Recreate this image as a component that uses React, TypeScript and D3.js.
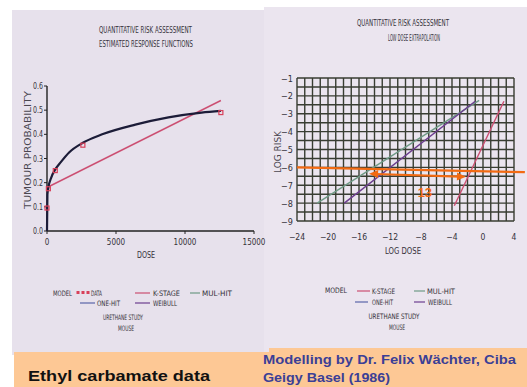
import React from "react";
import * as d3 from "d3";

// ---------- data ----------
// Left chart: estimated response functions
const dataDose = [0, 100, 600, 2600, 12600];
const dataProb = [0.095, 0.175, 0.25, 0.355, 0.49];
const fitDose = [0, 30, 100, 300, 600, 1000, 1600, 2600, 4000, 6400, 8800, 11200, 12600];
const fitProb = [0.0, 0.15, 0.18, 0.22, 0.255, 0.285, 0.325, 0.365, 0.4, 0.44, 0.47, 0.49, 0.497];
const kstageDose = [0, 12600];
const kstageProb = [0.18, 0.54];
const leftXTicks = [0, 5000, 10000, 15000];
const leftYTicks = [0, 0.1, 0.2, 0.3, 0.4, 0.5, 0.6];

// Right chart: low dose extrapolation
const mulhitLogDose = [-21.4, -0.5];
const mulhitLogRisk = [-8, -2.25];
const weibullLogDose = [-17.9, -1.0];
const weibullLogRisk = [-8, -2.3];
const kstageLogDose = [-3.7, 2.7];
const kstageLogRisk = [-8.15, -2.3];
const rightXTicks = [-24, -20, -16, -12, -8, -4, 0, 4];
const rightYTicks = [-1, -2, -3, -4, -5, -6, -7, -8, -9];
const refLineX = [-24, 5.4];
const refLineY = [-6.0, -6.27];
const arrowX = [-14.7, -2.2];
const arrowY = [-6.36, -6.53];
const arrowLabel = "13";

const CF = "'DejaVu Sans Condensed', 'Liberation Sans Narrow', 'Liberation Sans', Arial, sans-serif";
const INK = "#35313a";
const PINK = "#cc4f72";
const GREEN = "#6f9a86";
const BLUE = "#5a64a8";
const PURPLE = "#6d3f8f";
const ORANGE = "#f26a12";

const xL = d3.scaleLinear().domain([0, 15000]).range([47, 254]);
const yL = d3.scaleLinear().domain([0, 0.6]).range([231, 86]);
const xR = d3.scaleLinear().domain([-24, 4]).range([297, 514]);
const yR = d3.scaleLinear().domain([-9, -1]).range([221, 78]);

function T(props: any) {
  const { x, y, w, children, size = 8, anchor = "start", fill = INK, rotate } = props;
  return (
    <text
      x={x}
      y={y}
      fontFamily={CF}
      fontSize={size}
      fill={fill}
      textAnchor={anchor}
      textLength={w}
      lengthAdjust={w ? "spacingAndGlyphs" : undefined}
      transform={rotate ? `rotate(${rotate},${x},${y})` : undefined}
    >
      {children}
    </text>
  );
}

export default function App() {
  const lineL = d3.line<number>().x((d, i) => xL(fitDose[i])).y((d) => yL(d)).curve(d3.curveMonotoneX);
  const fitPath = lineL(fitProb) || "";
  const kPath = d3.line<number>().x((d, i) => xL(kstageDose[i])).y((d) => yL(d))(kstageProb) || "";

  const seg = (xs: number[], ys: number[]) =>
    d3.line<number>().x((d) => xR(d)).y((d, i) => yR(ys[i]))(xs) || "";

  const gridX = d3.range(-24, 5, 1);
  const gridY = d3.range(-9, -0.99, 0.5);

  // arrow geometry
  const ax1 = xR(arrowX[0]), ay1 = yR(arrowY[0]), ax2 = xR(arrowX[1]), ay2 = yR(arrowY[1]);
  const ang = Math.atan2(ay2 - ay1, ax2 - ax1);
  const head = (tx: number, ty: number, dir: number) => {
    const L = 9, Wd = 4;
    const c = Math.cos(ang) * dir, s = Math.sin(ang) * dir;
    const bx = tx - L * c, by = ty - L * s;
    return `M${tx},${ty}L${bx - Wd * s},${by + Wd * c}L${bx + Wd * s},${by - Wd * c}Z`;
  };

  return (
    <svg width={527} height={387} style={{ position: "absolute", left: 0, top: 0 }}>
      <rect x={0} y={0} width={527} height={387} fill="#ffffff" />
      {/* panels */}
      <rect x={12} y={10} width={254} height={345} fill="#e7e1ec" />
      <rect x={264} y={7} width={263} height={345} fill="#ebe5ef" />
      {/* orange caption band */}
      <rect x={14} y={352} width={513} height={35} fill="#fdc895" />
      <rect x={269} y={348} width={258} height={6} fill="#fdc895" />

      {/* ---------- LEFT CHART ---------- */}
      <T x={99} y={33} w={93} size={9}>QUANTITATIVE RISK ASSESSMENT</T>
      <T x={99} y={47} w={94} size={9}>ESTIMATED RESPONSE FUNCTIONS</T>

      <line x1={47} x2={47} y1={yL(0.6)} y2={yL(0)} stroke="#222" strokeWidth={1.4} />
      <line x1={47} x2={xL(15000)} y1={yL(0)} y2={yL(0)} stroke="#222" strokeWidth={1.4} />
      {leftYTicks.map((t) => (
        <g key={"ly" + t}>
          <line x1={44} x2={47} y1={yL(t)} y2={yL(t)} stroke="#222" strokeWidth={1} />
          <T x={43} y={yL(t) + 3} size={8} w={10} anchor="end">{t.toFixed(1)}</T>
        </g>
      ))}
      {leftXTicks.map((t) => (
        <g key={"lx" + t}>
          <line x1={xL(t)} x2={xL(t)} y1={yL(0)} y2={yL(0) + 3} stroke="#222" strokeWidth={1} />
          <T x={xL(t)} y={245} size={8} anchor="middle">{String(t)}</T>
        </g>
      ))}
      <T x={146} y={258} w={18} size={8} anchor="middle">DOSE</T>
      <T x={31} y={150} w={118} size={8} anchor="middle" rotate={-90} fill="#4a4650">TUMOUR PROBABILITY</T>

      <path d={kPath} fill="none" stroke={PINK} strokeWidth={1.4} />
      <path d={fitPath} fill="none" stroke="#1c1c38" strokeWidth={2.2} />
      {dataDose.map((d, i) => (
        <rect key={"pt" + i} x={xL(d) - 2} y={yL(dataProb[i]) - 2} width={4} height={4} fill="none" stroke="#d8405a" strokeWidth={1.2} />
      ))}

      {/* left legend */}
      <T x={53} y={296} w={19} size={7.5}>MODEL</T>
      {[78, 83, 88].map((x) => (
        <rect key={"lm" + x} x={x - 1.5} y={291} width={3} height={3} fill="#d8405a" />
      ))}
      <T x={91} y={296} w={11} size={7.5}>DATA</T>
      <line x1={135} x2={150} y1={293} y2={293} stroke={PINK} strokeWidth={1.2} />
      <T x={153} y={296} w={27} size={7.5}>K-STAGE</T>
      <line x1={190} x2={200} y1={293} y2={293} stroke={GREEN} strokeWidth={1.2} />
      <T x={202} y={296} w={30} size={7.5}>MUL-HIT</T>
      <line x1={80} x2={95} y1={303} y2={303} stroke={BLUE} strokeWidth={1.2} />
      <T x={97} y={306} w={23} size={7.5}>ONE-HIT</T>
      <line x1={135} x2={150} y1={303} y2={303} stroke={PURPLE} strokeWidth={1.2} />
      <T x={153} y={306} w={24} size={7.5}>WEIBULL</T>
      <T x={123} y={320} w={40} size={7.5} anchor="middle">URETHANE STUDY</T>
      <T x={126} y={331} w={16} size={7.5} anchor="middle">MOUSE</T>

      {/* ---------- RIGHT CHART ---------- */}
      <T x={357} y={26} w={92} size={9}>QUANTITATIVE RISK ASSESSMENT</T>
      <T x={388} y={41} w={52} size={8.5}>LOW DOSE EXTRAPOLATION</T>

      {gridX.map((g) => (
        <line key={"gx" + g} x1={xR(g)} x2={xR(g)} y1={yR(-1)} y2={yR(-9)} stroke="#383d32" strokeWidth={1.4} />
      ))}
      {gridY.map((g) => (
        <line key={"gy" + g} x1={xR(-24)} x2={xR(4)} y1={yR(g)} y2={yR(g)} stroke="#383d32" strokeWidth={1.4} />
      ))}
      {rightYTicks.map((t) => (
        <T key={"ry" + t} x={293} y={yR(t) + 3.5} size={9} anchor="end">{"\u2212" + Math.abs(t)}</T>
      ))}
      {rightXTicks.map((t) => (
        <T key={"rx" + t} x={xR(t)} y={240} size={8.5} anchor="middle">{t < 0 ? "\u2212" + Math.abs(t) : String(t)}</T>
      ))}
      <T x={403} y={254} w={36} size={8} anchor="middle">LOG DOSE</T>
      <T x={281} y={152} w={42} size={8} anchor="middle" rotate={-90} fill="#4a4650">LOG RISK</T>

      <path d={seg(mulhitLogDose, mulhitLogRisk)} fill="none" stroke={GREEN} strokeWidth={1.4} />
      <path d={seg(weibullLogDose, weibullLogRisk)} fill="none" stroke={PURPLE} strokeWidth={1.5} />
      <path d={seg(kstageLogDose, kstageLogRisk)} fill="none" stroke={PINK} strokeWidth={1.4} />

      {/* annotation */}
      <line x1={xR(refLineX[0])} x2={xR(refLineX[1])} y1={yR(refLineY[0])} y2={yR(refLineY[1])} stroke={ORANGE} strokeWidth={2.2} />
      <line x1={ax1 + 6 * Math.cos(ang)} y1={ay1 + 6 * Math.sin(ang)} x2={ax2 - 6 * Math.cos(ang)} y2={ay2 - 6 * Math.sin(ang)} stroke={ORANGE} strokeWidth={2.2} />
      <path d={head(ax1, ay1, -1)} fill={ORANGE} />
      <path d={head(ax2, ay2, 1)} fill={ORANGE} />
      <text x={xR(-7.5)} y={yR(-7.4) + 5} fontFamily="'Liberation Sans', Arial, sans-serif" fontWeight="bold" fontSize={13} fill={ORANGE} textAnchor="middle">{arrowLabel}</text>

      {/* right legend */}
      <T x={325} y={293} w={22} size={7.5}>MODEL</T>
      <line x1={357} x2={370} y1={291} y2={291} stroke={PINK} strokeWidth={1.2} />
      <T x={372} y={294} w={23} size={7.5}>K-STAGE</T>
      <line x1={414} x2={425} y1={291} y2={291} stroke={GREEN} strokeWidth={1.2} />
      <T x={427} y={294} w={28} size={7.5}>MUL-HIT</T>
      <line x1={355} x2={368} y1={302} y2={302} stroke={BLUE} strokeWidth={1.2} />
      <T x={372} y={305} w={21} size={7.5}>ONE-HIT</T>
      <line x1={414} x2={425} y1={302} y2={302} stroke={PURPLE} strokeWidth={1.2} />
      <T x={428} y={305} w={24} size={7.5}>WEIBULL</T>
      <T x={394} y={319} w={51} size={7.5} anchor="middle">URETHANE STUDY</T>
      <T x={397} y={330} w={16} size={7.5} anchor="middle">MOUSE</T>

      {/* captions */}
      <text x={28} y={381} fontFamily="'Liberation Sans', Arial, sans-serif" fontWeight="bold" fontSize={15.5} fill="#111" textLength={182} lengthAdjust="spacingAndGlyphs">Ethyl carbamate data</text>
      <text x={263} y={364} fontFamily="'Liberation Sans', Arial, sans-serif" fontWeight="bold" fontSize={12} fill="#3b3f96" textLength={253} lengthAdjust="spacingAndGlyphs">Modelling by Dr. Felix Wächter, Ciba</text>
      <text x={263} y={382} fontFamily="'Liberation Sans', Arial, sans-serif" fontWeight="bold" fontSize={12} fill="#3b3f96" textLength={127} lengthAdjust="spacingAndGlyphs">Geigy Basel (1986)</text>
    </svg>
  );
}
